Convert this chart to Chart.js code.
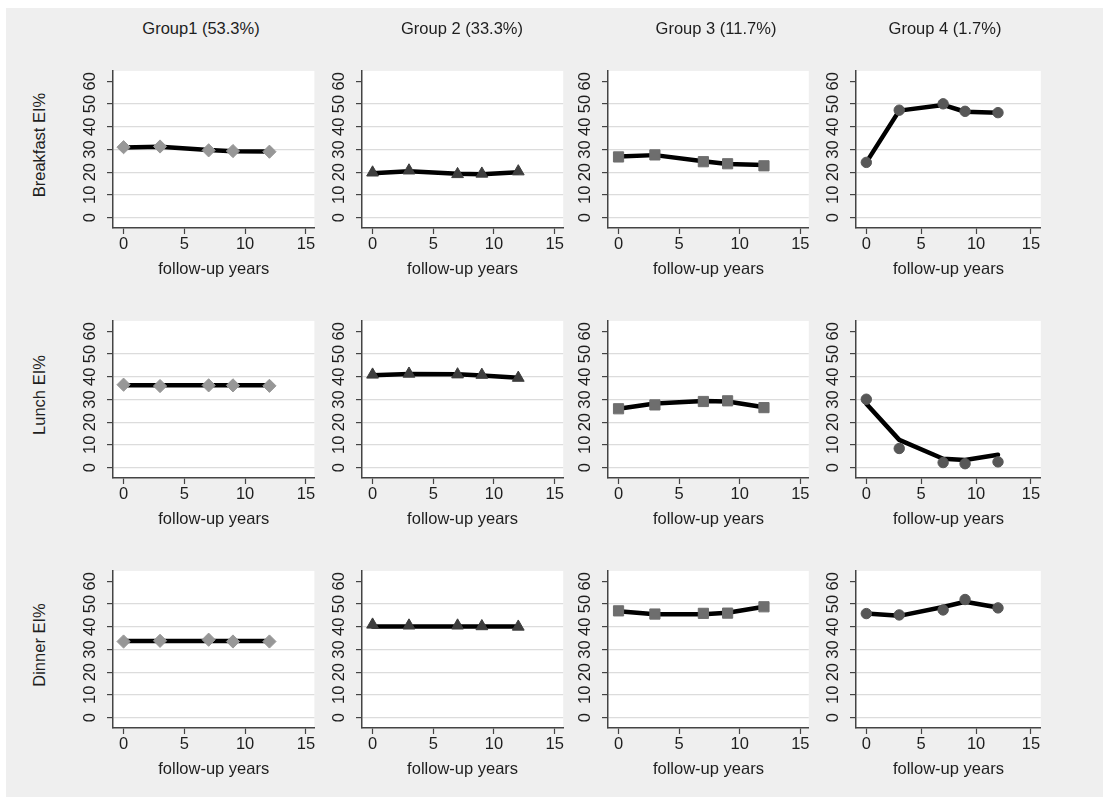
<!DOCTYPE html>
<html>
<head>
    <title>Meal EI% trajectories by group</title>
    <script src="https://cdn.jsdelivr.net/npm/chart.js"></script>
    <style>
        body { margin: 0; background: #fff; font-family: "Liberation Sans", Arial, sans-serif; color: #1e1e1e; }
        #frame { position: absolute; left: 6px; top: 8px; width: 1097px; height: 789px; background: #efefef; }
        canvas { position: absolute; }
        .gtitle { position: absolute; top: 18px; line-height: 20px; font-size: 16.5px; transform: translateX(-50%); white-space: nowrap; }
        .rlabel { position: absolute; left: 39px; font-size: 16.5px; line-height: 20px; white-space: nowrap; transform: translate(-50%, -50%) rotate(-90deg); }
    </style>
</head>
<body>
    <div id="frame"></div>

    <script>
        // data
        const years = [0, 3, 7, 9, 12];
        const groupTitles = ['Group1 (53.3%)', 'Group 2 (33.3%)', 'Group 3 (11.7%)', 'Group 4 (1.7%)'];
        const mealLabels = ['Breakfast EI%', 'Lunch EI%', 'Dinner EI%'];
        const yTicks = [0, 10, 20, 30, 40, 50, 60];
        const xTicks = [0, 5, 10, 15];

        // observed means (markers), one row per group
        const breakfastObs = [
            [31.0, 31.3, 29.6, 29.3, 29.0],
            [19.8, 20.7, 19.1, 19.3, 20.3],
            [26.7, 27.6, 24.6, 23.7, 22.8],
            [24.3, 47.3, 50.1, 46.8, 46.2]
        ];
        const lunchObs = [
            [36.5, 35.9, 36.2, 36.2, 36.0],
            [40.9, 41.3, 41.0, 40.8, 39.5],
            [25.9, 27.6, 29.1, 29.4, 26.4],
            [30.1, 8.4, 2.2, 1.7, 2.5]
        ];
        const dinnerObs = [
            [33.5, 33.8, 34.3, 33.5, 33.5],
            [40.9, 40.5, 40.5, 40.2, 40.0],
            [47.0, 45.6, 45.9, 46.0, 48.8],
            [45.8, 45.2, 47.4, 52.0, 48.3]
        ];
        // fitted trajectories (black lines)
        const breakfastFit = [
            [30.9, 31.2, 29.8, 29.2, 29.1],
            [19.5, 20.4, 19.3, 19.1, 20.0],
            [26.9, 27.5, 24.8, 23.6, 23.2],
            [24.3, 47.1, 49.6, 46.6, 46.2]
        ];
        const lunchFit = [
            [36.3, 36.3, 36.3, 36.3, 36.3],
            [40.7, 41.2, 41.1, 40.6, 39.6],
            [25.9, 28.2, 29.3, 29.1, 26.6],
            [28.1, 12.2, 3.9, 3.3, 5.6]
        ];
        const dinnerFit = [
            [33.7, 33.7, 33.7, 33.7, 33.7],
            [40.1, 40.1, 40.1, 40.1, 40.1],
            [46.8, 45.5, 45.5, 46.2, 48.8],
            [45.8, 44.8, 48.7, 51.0, 48.5]
        ];

        const obsByMeal = [breakfastObs, lunchObs, dinnerObs];
        const fitByMeal = [breakfastFit, lunchFit, dinnerFit];

        // marker look per group
        const markerStyle = ['rectRot', 'triangle', 'rect', 'circle'];
        const markerSize = [6.6, 6.8, 7.2, 5.2];
        const markerColor = ['#979797', '#3d3d3d', '#6e6e6e', '#575757'];

        // panel geometry
        const plotLeft = [113, 362, 608, 856];
        const plotWidth = [203, 203, 203, 185];
        const plotTop = [62, 312, 562];
        const plotHeight = 166;
        const yAxisW = 45, xAxisH = 60, padTop = 8, padRight = 6;
        const xRange = [[-0.87, 15.7], [-0.87, 15.7], [-0.87, 15.7], [-0.94, 15.9]];
        const titleCenter = [201, 462, 716, 945];

        const font = { family: '"Liberation Sans", Arial, sans-serif', size: 16.5 };

        const plotBg = {
            id: 'plotBg',
            beforeDraw(chart) {
                const { ctx, chartArea: a } = chart;
                ctx.save();
                ctx.fillStyle = '#ffffff';
                ctx.fillRect(a.left, a.top, a.width, a.height);
                ctx.restore();
            }
        };

        function toPoints(vals) {
            return years.map((x, i) => ({ x: x, y: vals[i] }));
        }

        function makePanel(r, c) {
            const cv = document.createElement('canvas');
            const w = plotWidth[c] + yAxisW + padRight;
            const h = plotHeight + padTop + xAxisH;
            cv.width = w;
            cv.height = h;
            cv.style.left = (plotLeft[c] - yAxisW) + 'px';
            cv.style.top = (plotTop[r] - padTop) + 'px';
            cv.style.width = w + 'px';
            cv.style.height = h + 'px';
            document.body.appendChild(cv);

            new Chart(cv.getContext('2d'), {
                type: 'scatter',
                data: {
                    datasets: [{
                        data: toPoints(obsByMeal[r][c]),
                        showLine: false,
                        pointStyle: markerStyle[c],
                        pointRadius: markerSize[c],
                        pointBackgroundColor: markerColor[c],
                        pointBorderColor: markerColor[c],
                        pointBorderWidth: 1,
                        order: 0
                    }, {
                        data: toPoints(fitByMeal[r][c]),
                        showLine: true,
                        borderColor: '#000',
                        borderWidth: 4.5,
                        borderCapStyle: 'round',
                        borderJoinStyle: 'round',
                        tension: 0,
                        pointRadius: 0,
                        order: 1
                    }]
                },
                options: {
                    responsive: false,
                    animation: false,
                    devicePixelRatio: 1,
                    layout: { padding: { top: padTop, right: padRight, left: 0, bottom: 0 } },
                    plugins: { legend: { display: false }, tooltip: { enabled: false } },
                    scales: {
                        x: {
                            type: 'linear',
                            min: xRange[c][0],
                            max: xRange[c][1],
                            afterBuildTicks: s => { s.ticks = xTicks.map(v => ({ value: v })); },
                            afterFit: s => { s.height = xAxisH; },
                            grid: { drawOnChartArea: false, tickLength: 6, tickColor: '#444', tickWidth: 1.2 },
                            border: { color: '#444', width: 1.5 },
                            ticks: { font: font, color: '#1e1e1e', padding: 1, maxRotation: 0, autoSkip: false },
                            title: { display: true, text: 'follow-up years', font: font, color: '#1e1e1e', padding: { top: 0, bottom: 9 } }
                        },
                        y: {
                            type: 'linear',
                            min: -4.6,
                            max: 64.6,
                            afterBuildTicks: s => { s.ticks = yTicks.map(v => ({ value: v })); },
                            afterFit: s => { s.width = yAxisW; },
                            grid: {
                                color: ctx => (ctx.tick && ctx.tick.value === 60) ? 'rgba(0,0,0,0)' : '#dcdcdc',
                                lineWidth: 1.2,
                                tickLength: 6,
                                tickColor: '#444',
                                tickWidth: 1.2
                            },
                            border: { color: '#444', width: 1.5 },
                            ticks: { font: font, color: '#1e1e1e', padding: 7, minRotation: 90, maxRotation: 90, crossAlign: 'center', autoSkip: false }
                        }
                    }
                },
                plugins: [plotBg]
            });
        }

        for (let r = 0; r < 3; r++) {
            for (let c = 0; c < 4; c++) makePanel(r, c);
        }

        groupTitles.forEach((t, c) => {
            const d = document.createElement('div');
            d.className = 'gtitle';
            d.textContent = t;
            d.style.left = titleCenter[c] + 'px';
            document.body.appendChild(d);
        });

        mealLabels.forEach((t, r) => {
            const d = document.createElement('div');
            d.className = 'rlabel';
            d.textContent = t;
            d.style.top = (plotTop[r] + plotHeight / 2) + 'px';
            document.body.appendChild(d);
        });
    </script>
</body>
</html>
